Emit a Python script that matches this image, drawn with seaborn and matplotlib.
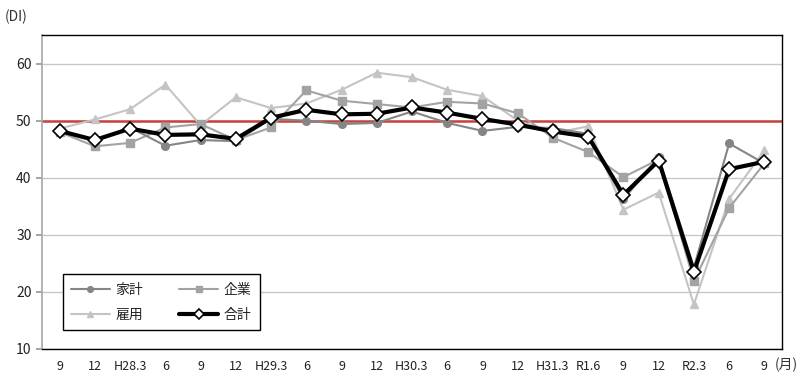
import matplotlib
matplotlib.use("Agg")
import matplotlib.pyplot as plt
import pandas as pd
import seaborn as sns
from matplotlib.ticker import FixedLocator

sns.set_theme(style="white")
plt.rcParams["font.family"] = ["Noto Sans CJK JP", "DejaVu Sans"]

# 四半期ラベル
periods = ["9", "12", "H28.3", "6", "9", "12", "H29.3", "6", "9", "12", "H30.3",
           "6", "9", "12", "H31.3", "R1.6", "9", "12", "R2.3", "6", "9"]

household = [48.2, 46.5, 48.8, 45.6, 46.6, 46.4, 50.3, 50.0, 49.4, 49.6, 51.6,
             49.6, 48.2, 48.9, 48.7, 47.7, 36.2, 43.6, 24.3, 46.0, 42.5]
business = [48.0, 45.5, 46.1, 48.8, 49.4, 46.6, 48.8, 55.3, 53.5, 52.9, 52.3,
            53.3, 53.0, 51.3, 47.0, 44.5, 40.1, 43.2, 21.9, 34.7, 42.5]
employment = [48.6, 50.2, 52.0, 56.3, 49.2, 54.1, 52.2, 53.0, 55.4, 58.4, 57.6,
              55.4, 54.3, 50.0, 47.8, 49.0, 34.4, 37.4, 17.8, 36.3, 44.8]
total = [48.2, 46.6, 48.6, 47.5, 47.6, 46.8, 50.5, 51.9, 51.1, 51.2, 52.3,
         51.4, 50.3, 49.3, 48.1, 47.2, 37.0, 43.0, 23.5, 41.5, 42.8]

df = pd.DataFrame({
    "idx": range(len(periods)),
    "家計": household,
    "企業": business,
    "雇用": employment,
    "合計": total,
})

STYLES = {
    "雇用": dict(color="#C4C4C4", marker="^", markersize=6, linewidth=1.5,
               markeredgecolor="#C4C4C4"),
    "企業": dict(color="#A3A3A3", marker="s", markersize=5.5, linewidth=1.5,
               markeredgecolor="#A3A3A3"),
    "家計": dict(color="#858585", marker="o", markersize=5.5, linewidth=1.5,
               markeredgecolor="#858585"),
    "合計": dict(color="black", marker="D", markersize=7, linewidth=3,
               markerfacecolor="white", markeredgecolor="black",
               markeredgewidth=1.2),
}

fig = plt.figure(figsize=(8, 3.82), dpi=100)
ax = fig.add_axes([0.0525, 0.0864, 0.925, 0.822])

ax.set_ylim(10, 65)
ax.set_xlim(-0.5, len(periods) - 0.5)
ax.set_yticks([10, 20, 30, 40, 50, 60])
ax.yaxis.grid(True, color="#C8C8C8", linewidth=1)
ax.set_axisbelow(True)

ax.axhline(50, color="#C8413B", linewidth=1.8, zorder=1.5)

handles = {}
for name in ["雇用", "企業", "家計", "合計"]:
    st = STYLES[name]
    sns.lineplot(data=df, x="idx", y=name, ax=ax, color=st["color"],
                 linewidth=st["linewidth"], marker=st["marker"],
                 markersize=st["markersize"],
                 markerfacecolor=st.get("markerfacecolor", st["color"]),
                 markeredgecolor=st["markeredgecolor"],
                 markeredgewidth=st.get("markeredgewidth", 1),
                 label=name, zorder=3 if name == "合計" else 2)
    handles[name] = ax.lines[-1]

order = ["家計", "雇用", "企業", "合計"]
leg = ax.legend([handles[n] for n in order], order, ncol=2,
                loc="lower left", bbox_to_anchor=(0.028, 0.06),
                borderaxespad=0, frameon=True, fancybox=False, fontsize=10,
                handlelength=2.8, columnspacing=2.6, borderpad=0.6,
                labelspacing=0.8, markerscale=0.75, handletextpad=0.4)
leg.get_frame().set_edgecolor("black")
leg.get_frame().set_linewidth(1)
leg.get_frame().set_facecolor("white")
leg.get_frame().set_alpha(1)

ax.set_xticks(range(len(periods)))
ax.set_xticklabels(periods, fontsize=9, color="#222222")
ax.xaxis.set_minor_locator(FixedLocator([i - 0.5 for i in range(len(periods) + 1)]))
ax.tick_params(axis="x", which="major", length=0, pad=8)
ax.tick_params(axis="x", which="minor", length=4, color="black", width=1,
               direction="out")
ax.tick_params(axis="y", length=4, color="#999999", labelsize=10,
               labelcolor="#222222", left=True)
ax.set_xlabel("")
ax.set_ylabel("")

for side in ["top", "right", "bottom"]:
    ax.spines[side].set_color("black")
    ax.spines[side].set_linewidth(1)
ax.spines["left"].set_color("#AAAAAA")

fig.text(0.006, 0.955, "(DI)", fontsize=10, color="#333333", va="center")
fig.text(0.969, 0.045, "(月)", fontsize=10, color="#333333", va="center")

fig.savefig("out.png", dpi=100)
